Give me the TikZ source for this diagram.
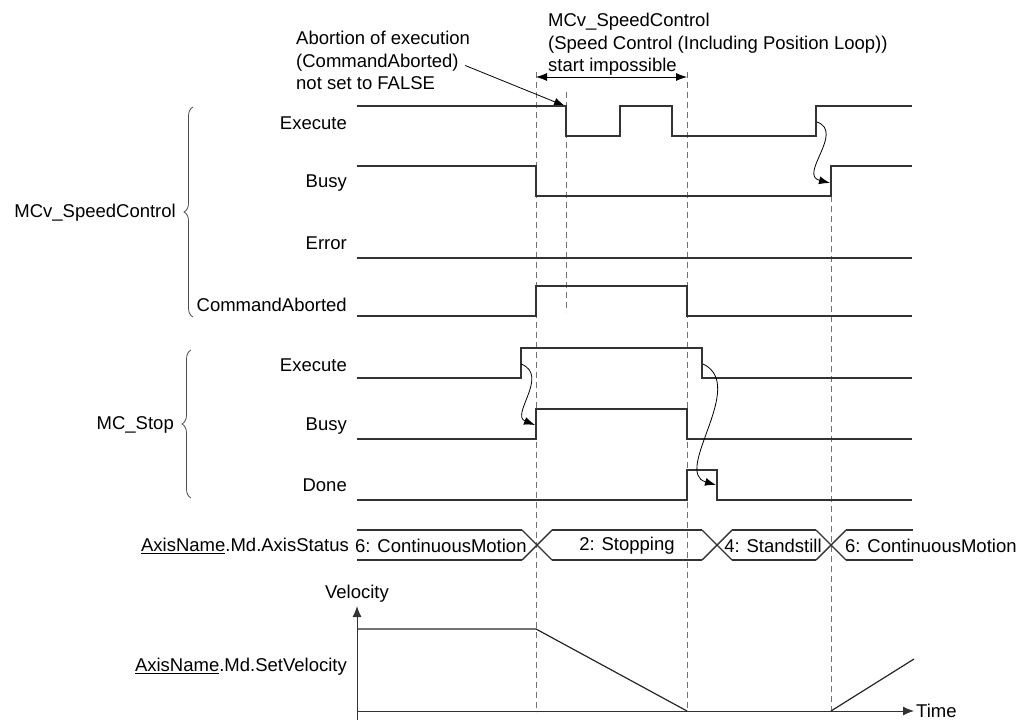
\documentclass[tikz,border=0pt]{standalone}
\usepackage{fontspec}
\setmainfont{Liberation Sans}
\usetikzlibrary{arrows.meta,decorations.pathreplacing}

\tikzset{
  sig/.style={line width=1.4pt, draw=black!80},
  guide/.style={draw=black!55, line width=1pt, dash pattern=on 6pt off 4pt},
  cause/.style={line width=0.8pt, -{Latex[length=11pt,width=8pt]}},
  lbl/.style={anchor=east, inner sep=0pt},
  grp/.style={decorate, decoration={brace, amplitude=9pt}, line width=0.8pt, draw=black!70},
}

\begin{document}
\begin{tikzpicture}[x=1pt,y=-1pt,font=\fontsize{18.5}{22.5}\selectfont]
   \useasboundingbox (0,0) rectangle (1017,722);

   % Guide lines
   \draw[guide] (536,72) -- (536,712);
   \draw[guide] (566,92) -- (566,312);
   \draw[guide] (687,72) -- (687,711);
   \draw[guide] (831,196) -- (831,711);

   % Notes at the top
   \node[align=left, anchor=north west, inner sep=0pt] (abort) at (296,31)
      {Abortion of execution\\(CommandAborted)\\not set to FALSE};
   \coordinate (exfall) at (565,106);
   \draw[cause] ([xshift=-5pt,yshift=-5pt]abort.east) -- (exfall);

   \node[align=left, anchor=north west, inner sep=0pt] (noStart) at (548,13)
      {MCv\_SpeedControl\\(Speed Control (Including Position Loop))\\start impossible};
   \coordinate (impA) at (536,77);
   \coordinate (impB) at (687,77);
   \draw[line width=0.8pt, {Latex[length=11pt,width=8pt]}-{Latex[length=11pt,width=8pt]}] (impA) -- (impB);

   % MCv_SpeedControl
   \node[lbl] (scExecute) at (347,123) {Execute};
   \node[lbl] (scBusy) at (347,183) {Busy};
   \node[lbl] (scError) at (347,243) {Error};
   \node[lbl] (scAborted) at (347,305) {CommandAborted};
   \draw[grp] (193,317) -- (193,107);
   \node[lbl] (speedCtrl) at (176,213) {MCv\_SpeedControl};

   \draw[sig] (357,106) -- (566,106) -- (566,136) -- (620,136) -- (620,106) -- (672,106)
      -- (672,136) -- (816,136) -- (816,106) -- (912,106);
   \draw[sig] (357,166) -- (536,166) -- (536,196) -- (831,196) -- (831,166) -- (912,166);
   \draw[sig] (357,258) -- (912,258);
   \draw[sig] (357,316) -- (536,316) -- (536,286) -- (687,286) -- (687,316) -- (912,316);

   % MC_Stop
   \node[lbl] (stExecute) at (347,365) {Execute};
   \node[lbl] (stBusy) at (347,426) {Busy};
   \node[lbl] (stDone) at (347,485) {Done};
   \draw[grp] (191,498) -- (191,350);
   \node[lbl] (mcStop) at (174,425) {MC\_Stop};

   \draw[sig] (357,378) -- (521,378) -- (521,348) -- (702,348) -- (702,378) -- (912,378);
   \draw[sig] (357,439) -- (536,439) -- (536,409) -- (687,409) -- (687,439) -- (912,439);
   \draw[sig] (357,500) -- (687,500) -- (687,470) -- (717,470) -- (717,500) -- (912,500);

   % cause -> effect
   \coordinate (stExeUp) at (521,364);
   \coordinate (stBusyUp) at (535,425);
   \coordinate (stExeDn) at (703,364);
   \coordinate (stDoneDn) at (716,485);
   \coordinate (scExeUp) at (817,122);
   \coordinate (scBusyUp) at (830,183);
   \draw[cause] (stExeUp) .. controls (550,375) and (510,415) .. (stBusyUp);
   \draw[cause] (stExeDn) .. controls (748,385) and (672,472) .. (stDoneDn);
   \draw[cause] (scExeUp) .. controls (845,132) and (798,175) .. (scBusyUp);

   % Axis status
   \node[lbl] (axStatus) at (349,546) {\underline{AxisName}.Md.AxisStatus};
   \foreach \a/\b in {357/522, 552/702, 732/816, 846/913}{
      \draw[sig] (\a,530) -- (\b,530);
      \draw[sig] (\a,560) -- (\b,560);
   }
   \foreach \c in {537,717,831}{
      \draw[sig] (\c-15,530) -- (\c+15,560);
      \draw[sig] (\c-15,560) -- (\c+15,530);
   }
   \node[anchor=west, inner sep=0pt] (stCont) at (355,546) {6: ContinuousMotion};
   \node (stStopping) at (627,546) {2: Stopping};
   \node (stStill) at (773,546) {4: Standstill};
   \node[anchor=west, inner sep=0pt] (stCont2) at (845,546) {6: ContinuousMotion};

   % Velocity
   \node[lbl] (setVel) at (347,667) {\underline{AxisName}.Md.SetVelocity};
   \node (velAxis) at (357,594) {Velocity};
   \coordinate (origin) at (357,711);
   \coordinate (velTop) at (357,606);
   \coordinate (timeEnd) at (914,711);
   \draw[line width=1pt, black!80, -{Latex[length=11pt,width=9pt]}] (357,720) -- (velTop);
   \draw[line width=1pt, black!80, -{Latex[length=11pt,width=9pt]}] (origin) -- (timeEnd);
   \node[anchor=west, inner sep=2pt] (timeAxis) at (timeEnd) {Time};
   \draw[line width=1.2pt, black!85] (357,629) -- (536,629) -- (687,711);
   \draw[line width=1.2pt, black!85] (831,711) -- (914,659);
\end{tikzpicture}
\end{document}
